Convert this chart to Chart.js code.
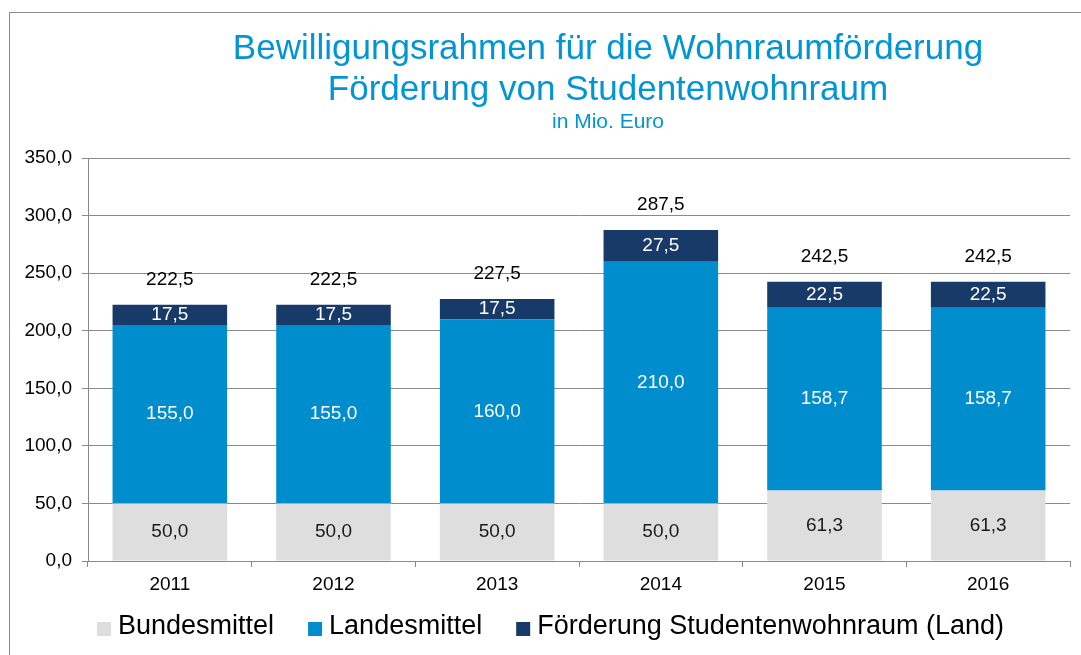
<!DOCTYPE html>
<html>
<head>
<meta charset="utf-8">
<script src="https://cdn.jsdelivr.net/npm/chart.js@4"></script>
<style>
  body { margin: 0; background: #fff; }
  #wrap { position: relative; width: 1081px; height: 655px; }
</style>
</head>
<body>
<div id="wrap"><canvas id="foerder-chart"></canvas></div>
<script>
const years = ['2011', '2012', '2013', '2014', '2015', '2016'];
const bundesmittel = [50.0, 50.0, 50.0, 50.0, 61.3, 61.3];
const landesmittel = [155.0, 155.0, 160.0, 210.0, 158.7, 158.7];
const studentenwohnraum = [17.5, 17.5, 17.5, 27.5, 22.5, 22.5];
const totals = [222.5, 222.5, 227.5, 287.5, 242.5, 242.5];

const titleLines = [
  'Bewilligungsrahmen für die Wohnraumförderung',
  'Förderung von Studentenwohnraum'
];
const subTitle = 'in Mio. Euro';

const FONT = "'Liberation Sans', Arial, sans-serif";
const BLUE_TEXT = '#0096d6';

function fmt(v) {
  return v.toFixed(1).replace('.', ',');
}

// frame, title and the legend row, drawn onto the canvas
const titlePlugin = {
  id: 'titleFrame',
  afterDraw(chart) {
    const ctx = chart.ctx;
    ctx.save();
    ctx.strokeStyle = '#8a8a8a';
    ctx.lineWidth = 1;
    ctx.beginPath();
    ctx.moveTo(9.5, chart.height);
    ctx.lineTo(9.5, 12.5);
    ctx.lineTo(chart.width, 12.5);
    ctx.stroke();

    ctx.fillStyle = BLUE_TEXT;
    ctx.textAlign = 'center';
    ctx.textBaseline = 'alphabetic';
    ctx.font = '35px ' + FONT;
    ctx.fillText(titleLines[0], 608, 59);
    ctx.fillText(titleLines[1], 608, 100);
    ctx.font = '21px ' + FONT;
    ctx.fillText(subTitle, 608, 128);

    // legend
    ctx.font = '27px ' + FONT;
    ctx.textAlign = 'left';
    ctx.textBaseline = 'middle';
    let x = 97;
    const y = 629;
    chart.data.datasets.forEach(ds => {
      ctx.fillStyle = ds.backgroundColor;
      ctx.fillRect(x, y - 7, 14, 14);
      ctx.fillStyle = '#000000';
      ctx.fillText(ds.label, x + 21, y - 2);
      x += 21 + ctx.measureText(ds.label).width + 34;
    });
    ctx.restore();
  }
};

// values inside the segments and totals above
const valueLabels = {
  id: 'valueLabels',
  afterDatasetsDraw(chart) {
    const ctx = chart.ctx;
    ctx.save();
    ctx.font = '19px ' + FONT;
    ctx.textAlign = 'center';
    ctx.textBaseline = 'middle';
    chart.data.datasets.forEach((ds, i) => {
      const meta = chart.getDatasetMeta(i);
      meta.data.forEach((bar, j) => {
        ctx.fillStyle = i === 0 ? '#1a1a1a' : '#ffffff';
        ctx.fillText(fmt(ds.data[j]), bar.x, (bar.y + bar.base) / 2);
      });
    });
    const top = chart.getDatasetMeta(chart.data.datasets.length - 1);
    ctx.fillStyle = '#000000';
    top.data.forEach((bar, j) => {
      ctx.fillText(fmt(totals[j]), bar.x, bar.y - 25);
    });
    ctx.restore();
  }
};

const data = {
  labels: years,
  datasets: [{
    label: 'Bundesmittel',
    data: bundesmittel,
    backgroundColor: '#dedede'
  }, {
    label: 'Landesmittel',
    data: landesmittel,
    backgroundColor: '#008dcd'
  }, {
    label: 'Förderung Studentenwohnraum (Land)',
    data: studentenwohnraum,
    backgroundColor: '#173a68'
  }]
};

const config = {
  type: 'bar',
  data: data,
  options: {
    responsive: true,
    maintainAspectRatio: false,
    animation: false,
    datasets: {
      bar: {
        categoryPercentage: 1.0,
        barPercentage: 0.7
      }
    },
    layout: {
      padding: { left: 0, top: 158, right: 11, bottom: 54 }
    },
    plugins: {
      tooltip: { enabled: false },
      title: { display: false },
      legend: { display: false }
    },
    scales: {
      x: {
        stacked: true,
        afterFit(scale) { scale.height = 40; },
        grid: {
          display: true,
          drawOnChartArea: false,
          drawTicks: true,
          tickLength: 6,
          color: '#8a8a8a'
        },
        border: { display: true, color: '#8a8a8a' },
        ticks: {
          color: '#000000',
          padding: 6,
          font: { size: 19, family: FONT }
        }
      },
      y: {
        stacked: true,
        min: 0,
        max: 350,
        afterFit(scale) { scale.width = 88; },
        grid: {
          color: '#8a8a8a',
          tickLength: 6
        },
        border: { display: true, color: '#8a8a8a' },
        ticks: {
          stepSize: 50,
          color: '#000000',
          padding: 10,
          font: { size: 19, family: FONT },
          callback: v => fmt(v)
        }
      }
    }
  },
  plugins: [titlePlugin, valueLabels]
};

const foerderChart = new Chart(
  document.getElementById('foerder-chart'),
  config
);
</script>
</body>
</html>
